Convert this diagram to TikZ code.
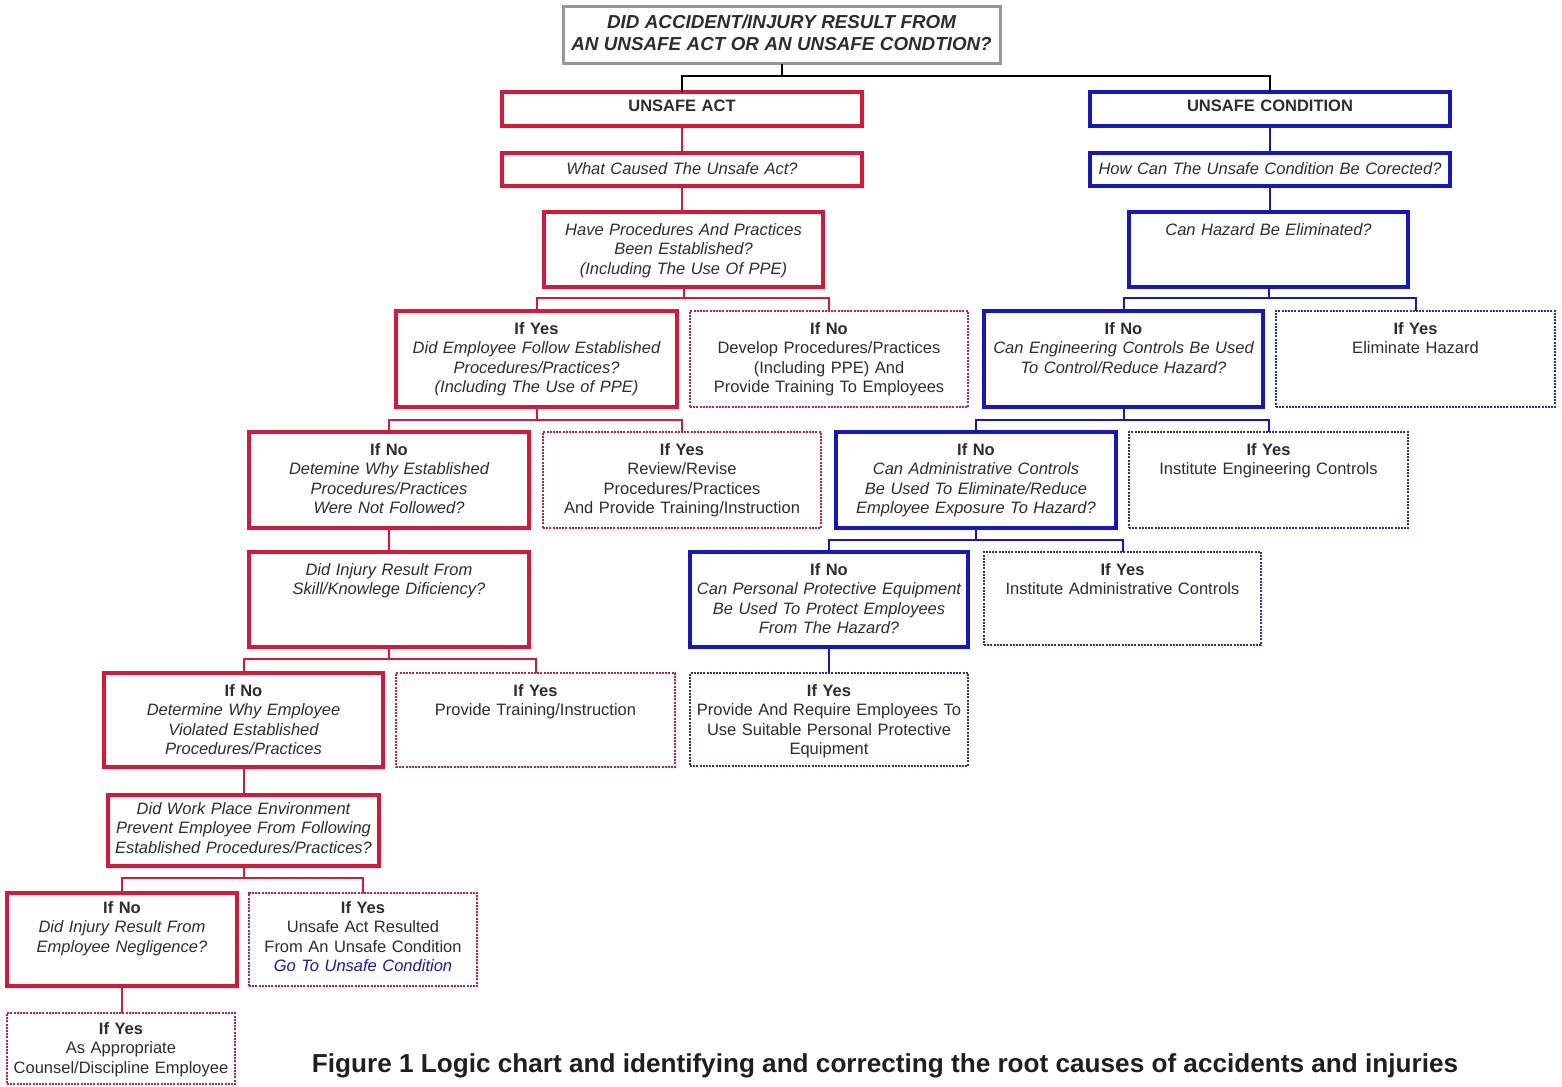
\documentclass[tikz,border=0pt]{standalone}
\usepackage{fontspec}
\setmainfont{Liberation Sans}
\usepackage{graphicx}
\definecolor{redS}{RGB}{218,22,58}
\definecolor{redD}{RGB}{196,30,72}
\definecolor{blueS}{RGB}{22,22,196}
\definecolor{blueD}{RGB}{44,44,168}
\definecolor{grayB}{RGB}{150,150,150}
\definecolor{txtc}{RGB}{45,45,45}
\tikzset{
  txt/.style={inner sep=0pt, align=center, text=txtc, font=\fontsize{16.5}{19.5}\selectfont},
  solidR/.style={draw=redS, line width=3.5pt},
  dotR/.style={draw=redD, line width=2.6pt, dash pattern=on 2pt off 1.2pt},
  solidB/.style={draw=blueS, line width=3.5pt},
  dotB/.style={draw=blueD, line width=2.6pt, dash pattern=on 2pt off 1.2pt},
  titlebox/.style={draw=grayB, line width=3pt},
  conR/.style={draw=redS, line width=2pt},
  conB/.style={draw=blueS, line width=2pt},
  conK/.style={draw=black, line width=2pt},
}
\newcommand{\mybox}[8][11]{%
  \pgfmathsetmacro\myBW{#6-#4}%
  \pgfmathsetmacro\myBH{#7-#5}%
  \pgfmathsetmacro\myTW{#6-#4+80}%
  \node[#3, minimum width=\myBW pt, minimum height=\myBH pt, anchor=north west, inner sep=0pt, outer sep=0pt] (#2) at (#4,#5) {};
  \node[txt, text width=\myTW pt, anchor=north] (#2-t) at ([yshift=-#1pt]#2.north) {#8};
}
\begin{document}
\begin{tikzpicture}[x=1pt,y=-1pt]
\useasboundingbox[fill=white] (0,0) rectangle (1562,1086);
% title
\mybox[8]{T}{titlebox}{563}{7}{1000}{64}{\fontsize{18.8}{19.5}\selectfont\bfseries\itshape DID ACCIDENT/INJURY RESULT FROM\\[2.5pt]AN UNSAFE ACT OR AN UNSAFE CONDTION?}
% unsafe act side
\mybox[8]{UA}{solidR}{502}{92}{862}{126}{\bfseries UNSAFE ACT}
\mybox[9]{UA2}{solidR}{502}{153}{862}{186}{\itshape What Caused The Unsafe Act?}
\mybox{UA3}{solidR}{544}{212}{823}{287}{\itshape Have Procedures And Practices\\Been Established?\\(Including The Use Of PPE)}
\mybox{UA4}{solidR}{396}{311}{677}{407}{\textbf{If Yes}\\\itshape Did Employee Follow Established\\Procedures/Practices?\\(Including The Use of PPE)}
\mybox{UA4b}{dotR}{690}{311}{968}{407}{\textbf{If No}\\Develop Procedures/Practices\\(Including PPE) And\\Provide Training To Employees}
\mybox{UA5}{solidR}{249}{432}{529}{528}{\textbf{If No}\\\itshape Detemine Why Established\\Procedures/Practices\\Were Not Followed?}
\mybox{UA5b}{dotR}{543}{432}{821}{528}{\textbf{If Yes}\\Review/Revise\\Procedures/Practices\\And Provide Training/Instruction}
\mybox{UA6}{solidR}{249}{552}{529}{647}{\itshape Did Injury Result From\\Skill/Knowlege Dificiency?}
\mybox{UA7}{solidR}{104}{673}{383}{767}{\textbf{If No}\\\itshape Determine Why Employee\\Violated Established\\Procedures/Practices}
\mybox{UA7b}{dotR}{396}{673}{675}{767}{\textbf{If Yes}\\Provide Training/Instruction}
\mybox[7]{UA8}{solidR}{108}{795}{379}{866}{\itshape Did Work Place Environment\\Prevent Employee From Following\\Established Procedures/Practices?}
\mybox[8]{UA9}{solidR}{7}{893}{237}{986}{\textbf{If No}\\\itshape Did Injury Result From\\Employee Negligence?}
\mybox[8]{UA9b}{dotR}{249}{893}{477}{986}{\textbf{If Yes}\\Unsafe Act Resulted\\From An Unsafe Condition\\\textcolor{blueS}{\itshape Go To Unsafe Condition}}
\mybox[9]{UA10}{dotR}{7}{1013}{235}{1084}{\textbf{If Yes}\\As Appropriate\\Counsel/Discipline Employee}
% unsafe condition side
\mybox[8]{UC}{solidB}{1090}{92}{1450}{126}{\bfseries UNSAFE CONDITION}
\mybox[9]{UC2}{solidB}{1090}{153}{1450}{186}{\itshape How Can The Unsafe Condition Be Corected?}
\mybox{UC3}{solidB}{1129}{212}{1408}{287}{\itshape Can Hazard Be Eliminated?}
\mybox{UC4}{solidB}{984}{311}{1263}{407}{\textbf{If No}\\\itshape Can Engineering Controls Be Used\\To Control/Reduce Hazard?}
\mybox{UC4b}{dotB}{1276}{311}{1555}{407}{\textbf{If Yes}\\Eliminate Hazard}
\mybox{UC5}{solidB}{836}{432}{1116}{528}{\textbf{If No}\\\itshape Can Administrative Controls\\Be Used To Eliminate/Reduce\\Employee Exposure To Hazard?}
\mybox{UC5b}{dotB}{1129}{432}{1408}{528}{\textbf{If Yes}\\Institute Engineering Controls}
\mybox{UC6}{solidB}{690}{552}{968}{647}{\textbf{If No}\\\itshape Can Personal Protective Equipment\\Be Used To Protect Employees\\From The Hazard?}
\mybox{UC6b}{dotB}{984}{552}{1261}{645}{\textbf{If Yes}\\Institute Administrative Controls}
\mybox{UC7}{dotB}{690}{673}{968}{766}{\textbf{If Yes}\\Provide And Require Employees To\\Use Suitable Personal Protective\\Equipment}
% connectors
\draw[conK] (T.south) -- ++(0,12) coordinate (tb) -| (UA.north);
\draw[conK] (tb) -| (UC.north);
\draw[conR] (UA.south) -- (UA2.north);
\draw[conR] (UA2.south) -- (UA2.south |- UA3.north);
\draw[conR] (UA3.south) -- ++(0,11) coordinate (b3) -| (UA4.north);
\draw[conR] (b3) -| (UA4b.north);
\draw[conR] (UA4.south) -- ++(0,13) coordinate (b4) -| (UA5.north);
\draw[conR] (b4) -| (UA5b.north);
\draw[conR] (UA5.south) -- (UA6.north);
\draw[conR] (UA6.south) -- ++(0,12) coordinate (b6) -| (UA7.north);
\draw[conR] (b6) -| (UA7b.north);
\draw[conR] (UA7.south) -- (UA7.south |- UA8.north);
\draw[conR] (UA8.south) -- ++(0,12) coordinate (b8) -| (UA9.north);
\draw[conR] (b8) -| (UA9b.north);
\draw[conR] (UA9.south) -- (UA9.south |- UA10.north);
\draw[conB] (UC.south) -- (UC2.north);
\draw[conB] (UC2.south) -- (UC2.south |- UC3.north);
\draw[conB] (UC3.south) -- ++(0,11) coordinate (c3) -| (UC4.north);
\draw[conB] (c3) -| (UC4b.north);
\draw[conB] (UC4.south) -- ++(0,13) coordinate (c4) -| (UC5.north);
\draw[conB] (c4) -| (UC5b.north);
\draw[conB] (UC5.south) -- ++(0,12) coordinate (c5) -| (UC6.north);
\draw[conB] (c5) -| (UC6b.north);
\draw[conB] (UC6.south) -- (UC7.north);
% caption
\node[anchor=base, inner sep=0pt, text=black!88] (cap) at (885,1072) {\resizebox{1146pt}{\height}{\fontsize{26}{30}\selectfont\bfseries Figure 1 Logic chart and identifying and correcting the root causes of accidents and injuries}};
\end{tikzpicture}
\end{document}
